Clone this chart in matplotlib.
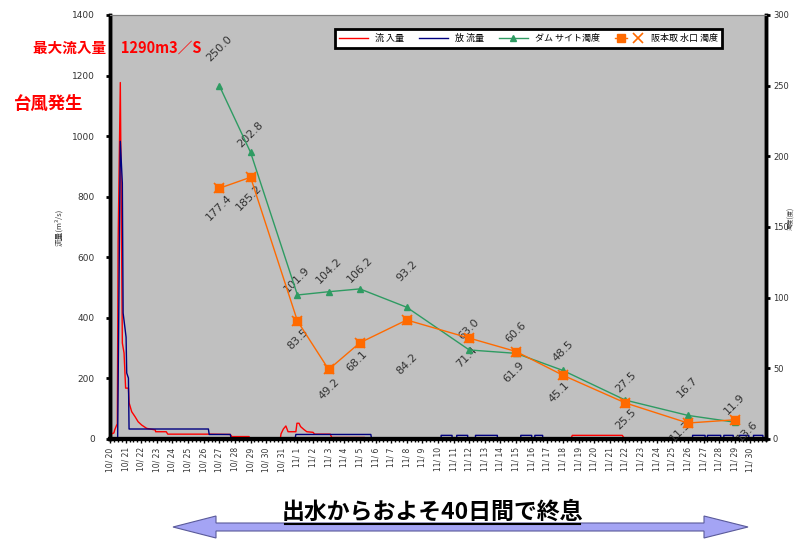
"""Flow and turbidity after the typhoon: inflow/outflow (left) and turbidity (right)."""
import matplotlib
matplotlib.use("Agg")
import matplotlib.pyplot as plt
from matplotlib.lines import Line2D
from matplotlib.patches import Polygon
from matplotlib.legend_handler import HandlerTuple
from matplotlib.ticker import MultipleLocator

plt.rcParams["font.family"] = ["DejaVu Sans", "Noto Sans CJK JP"]
JP = ["Noto Sans CJK JP", "DejaVu Sans"]

# x positions are days after 10/20 00:00
date_labels = [f"10/ {d}" for d in range(20, 32)] + [f"11/ {d}" for d in range(1, 31)]

# inflow (m3/s)
inflow_t = [0.0, 0.25, 0.3, 0.42, 0.47, 0.52, 0.66, 0.79, 0.90, 1.0, 1.18, 1.22,
            1.39, 1.6, 1.8, 2.03, 2.35, 2.9, 2.92, 3.6, 3.7, 6.3, 7.7, 7.8, 8.9,
            9.0, 10.9, 10.95, 11.1, 11.26, 11.4, 11.9, 11.97, 12.1, 12.2, 12.4,
            12.6, 13.0, 13.1, 14.1, 14.2, 16.3, 16.4, 29.5, 29.6, 32.8, 32.9, 42.0]
inflow_q = [15, 20, 30, 45, 50, 650, 1177, 317, 284, 168, 168, 120,
            90, 74, 57, 46, 35, 30, 24, 24, 16, 16, 15, 8, 8,
            0, 0, 17, 33, 43, 24, 24, 52, 52, 41, 32,
            24, 22, 16, 16, 5, 5, 0, 0, 12, 12, 4, 4]

# outflow (m3/s)
outflow_t = [0.0, 0.49, 0.66, 0.79, 0.84, 1.03, 1.07, 1.18, 1.22, 6.3, 6.35, 7.7,
             7.75, 11.86, 11.9, 16.7, 16.75,
             21.2, 21.2, 21.9, 21.9, 22.2, 22.2, 22.9, 22.9, 23.4, 23.4, 24.8, 24.8,
             26.3, 26.3, 27.0, 27.0, 27.2, 27.2, 27.7, 27.7,
             37.3, 37.3, 38.1, 38.1, 38.25, 38.25, 39.1, 39.1, 39.3, 39.3, 39.9, 39.9,
             40.3, 40.3, 40.9, 40.9, 41.2, 41.2, 41.8, 41.8, 42.0]
outflow_q = [3, 3, 983, 845, 416, 336, 218, 201, 33, 33, 15, 15,
             4, 4, 15, 15, 0,
             0, 12, 12, 0, 0, 12, 12, 0, 0, 12, 12, 0,
             0, 12, 12, 0, 0, 12, 12, 0,
             0, 12, 12, 0, 0, 12, 12, 0, 0, 12, 12, 0,
             0, 12, 12, 0, 0, 12, 12, 0, 0]

# turbidity (degrees)
turb_days = [7, 9, 12, 14, 16, 19, 23, 26, 29, 33, 37, 40]
dam_turb = [250.0, 202.8, 101.9, 104.2, 106.2, 93.2, 63.0, 60.6, 48.5, 27.5, 16.7, 11.9]
intake_turb = [177.4, 185.2, 83.5, 49.2, 68.1, 84.2, 71.4, 61.9, 45.1, 25.5, 11.3, 13.6]

# label placement (pixels from the marker)
dam_label_up = [37, 18, 15, 21, 19, 36, 21, 21, 19, 18, 28, 18]
intake_label_down = [19, 20, 18, 20, 18, 44, 19, 21, 17, 16, 8, 11]
intake_label_dx = [0, -2, 0, 0, -3, 0, -2, -2, -4, 0, -7, 13]

W, H = 797, 539
RED, NAVY, GREEN, ORANGE = "#FF0000", "#000080", "#2E9B62", "#FF6A00"
GREY_TXT = "#333333"

fig = plt.figure(figsize=(W / 100, H / 100), dpi=100)
ax = fig.add_axes([110 / W, 1 - 439 / H, 656 / W, 424 / H])
ax.set_facecolor("#C0C0C0")

ax.plot(inflow_t, inflow_q, color=RED, lw=1.0, zorder=3)
ax.plot(outflow_t, outflow_q, color=NAVY, lw=1.0, zorder=3)
ax.set_xlim(0, 42)
ax.set_ylim(0, 1400)
ax.yaxis.set_major_locator(MultipleLocator(200))
ax.set_xticks(range(len(date_labels)))
ax.set_xticklabels(date_labels, rotation=90, fontsize=5.5, color=GREY_TXT)
ax.xaxis.set_minor_locator(MultipleLocator(0.25))
ax.tick_params(axis="x", which="major", length=3, width=1, pad=3)
ax.tick_params(axis="x", which="minor", length=2, width=1)
ax.tick_params(axis="y", length=3, width=2, labelsize=6.5, labelcolor=GREY_TXT, pad=8)
ax.set_ylabel("流量(m³/s)", fontsize=5.5, family=JP, color=GREY_TXT, labelpad=6)

ax2 = ax.twinx()
ax2.set_ylim(0, 300)
ax2.yaxis.set_major_locator(MultipleLocator(50))
ax2.tick_params(axis="y", length=3, width=2, labelsize=6, labelcolor=GREY_TXT, pad=2)
ax2.set_ylabel("濁度(度)", fontsize=4.5, family=JP, color=GREY_TXT)
ax2.yaxis.set_label_coords((787 - 110) / 656, 0.52)

dam_line, = ax2.plot(turb_days, dam_turb, color=GREEN, lw=1.0, marker="^", ms=4.5,
                     zorder=4)
intake_line, = ax2.plot(turb_days, intake_turb, color=ORANGE, lw=1.0, marker="s",
                        ms=5.5, zorder=4)
intake_x, = ax2.plot(turb_days, intake_turb, ls="none", color=ORANGE, marker="x",
                     ms=7, mew=1.2, zorder=4)

for d, v, up in zip(turb_days, dam_turb, dam_label_up):
    ax2.annotate(f"{v:.1f}", (d, v), xytext=(0, up), textcoords="offset pixels",
                 rotation=45, ha="center", va="center", fontsize=8, color=GREY_TXT)
for d, v, dn, dx in zip(turb_days, intake_turb, intake_label_down, intake_label_dx):
    ax2.annotate(f"{v:.1f}", (d, v), xytext=(dx, -dn), textcoords="offset pixels",
                 rotation=45, ha="center", va="center", fontsize=8, color=GREY_TXT)

for a in (ax, ax2):
    a.spines["left"].set_linewidth(2.5)
    a.spines["right"].set_linewidth(2.5)
    a.spines["bottom"].set_linewidth(3)
    a.spines["top"].set_color("#808080")
    a.spines["top"].set_linewidth(0.8)

handles = [Line2D([], [], color=RED, lw=1), Line2D([], [], color=NAVY, lw=1),
           dam_line, (intake_line, intake_x)]
labels = ["流 入量", "放 流量", "ダム サイト濁度", "阪本取 水口 濁度"]
leg = fig.legend(handles, labels, ncol=4, mode="expand", loc="center",
                 bbox_to_anchor=(330 / W, 1 - 48 / H, 397 / W, 19 / H),
                 prop={"family": JP, "size": 6.5}, handlelength=3.2,
                 handler_map={tuple: HandlerTuple(ndivide=None)},
                 fancybox=False, framealpha=1, borderpad=0.5)
leg.get_frame().set_edgecolor("black")
leg.get_frame().set_linewidth(2)

fig.text(33 / W, 1 - 48 / H, "最大流入量　1290m3／S", family=JP, fontsize=10.5,
         fontweight="bold", color=RED, va="center", ha="left")
fig.text(14 / W, 1 - 104 / H, "台風発生", family=JP, fontsize=12.5,
         fontweight="bold", color=RED, va="center", ha="left")

# double-headed arrow at the bottom
arrow_px = [(173, 527), (216, 516), (216, 523), (704, 523), (704, 516), (748, 527),
            (704, 538), (704, 531), (216, 531), (216, 538)]
fig.patches.append(Polygon([(x / W, 1 - y / H) for x, y in arrow_px], closed=True,
                           transform=fig.transFigure, facecolor="#A4A4F4",
                           edgecolor="#5A5A9A", lw=0.8))
fig.text(432 / W, 1 - 512 / H, "出水からおよそ40日間で終息", family=JP, fontsize=16.5,
         fontweight="bold", color="black", ha="center", va="center")
fig.lines.append(Line2D([285 / W, 580 / W], [1 - 524 / H, 1 - 524 / H],
                        transform=fig.transFigure, color="black", lw=1.5))

fig.savefig("out.png", dpi=100)
